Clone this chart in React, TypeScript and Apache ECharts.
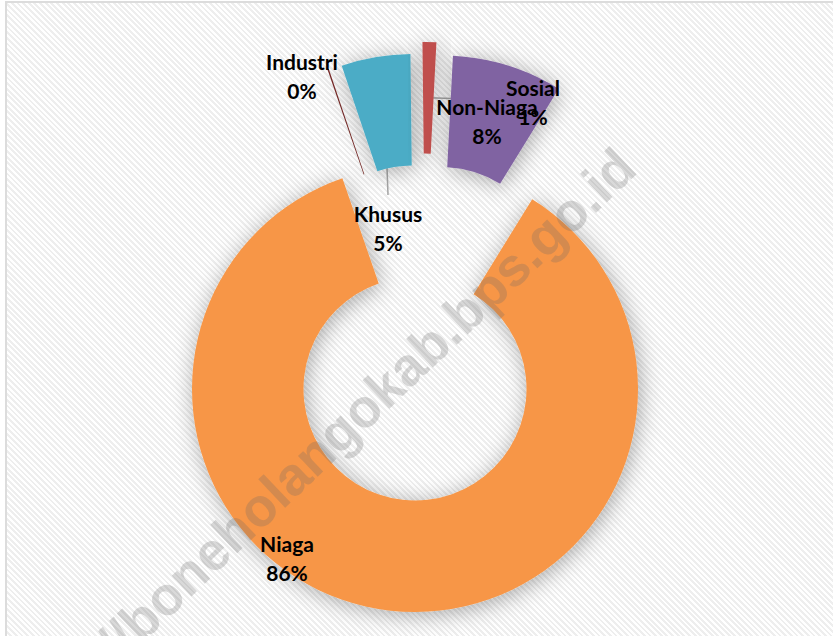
import React, { useEffect, useRef } from 'react';
import * as echarts from 'echarts';

// ---- data ----
const categories = ['Industri', 'Khusus', 'Sosial', 'Non-Niaga', 'Niaga'];
const values = [0.1, 5, 1, 8, 86];
const colors = ['#772C2A', '#4BACC6', '#C0504D', '#8064A2', '#F79646'];
const watermarkText = 'https://boneholangokab.bps.go.id';

// ---- layout ----
const START_ANGLE = 109;
const R_IN = 111.5;
const R_OUT = 223;
const drawOrder = ['Niaga', 'Industri', 'Khusus', 'Sosial', 'Non-Niaga'];
const centers: Record<string, [number, number]> = {
  Niaga: [415, 389],
  Industri: [400, 280],
  Khusus: [413, 277],
  Sosial: [425, 265],
  'Non-Niaga': [441.5, 278.5],
};
const labelPos: Record<string, [number, number]> = {
  Industri: [302, 76],
  Khusus: [388, 228],
  Sosial: [533, 102],
  'Non-Niaga': [487, 121],
  Niaga: [287, 558],
};
const leaderEnd: Record<string, [number, number]> = {
  Khusus: [388, 195],
  Sosial: [500, 100],
};

function bisector(idx: number): number {
  const total = values.reduce((a, b) => a + b, 0);
  let cum = 0;
  for (let i = 0; i < idx; i++) cum += values[i];
  const start = 90 - START_ANGLE + (cum / total) * 360;
  return start + (values[idx] / total) * 180;
}

export default function App() {
  const ref = useRef<HTMLDivElement>(null);
  useEffect(() => {
    document.body.style.margin = '0';
    if (!ref.current) return;
    const chart = echarts.init(ref.current, undefined, { renderer: 'svg' });
    const labelStyle = {
      fontFamily: 'Lato',
      fontWeight: 'bold' as const,
      fontSize: 21,
      lineHeight: 29,
      color: '#000',
    };
    const series = drawOrder.map((name) => {
      const idx = categories.indexOf(name);
      const hasLeader = !!leaderEnd[name];
      return {
        type: 'pie',
        silent: true,
        center: centers[name],
        radius: [R_IN, R_OUT],
        startAngle: START_ANGLE,
        clockwise: true,
        percentPrecision: 0,
        avoidLabelOverlap: false,
        z: name === 'Niaga' ? 2 : 3,
        label: { show: false },
        labelLine: { show: false },
        emphasis: { disabled: true },
        data: categories.map((c, i) => ({
          name: c,
          value: values[i],
          itemStyle:
            i === idx
              ? {
                  color: colors[i],
                  borderWidth: 0,
                  shadowBlur: 22,
                  shadowColor: 'rgba(0,0,0,0.33)',
                  shadowOffsetX: 2,
                  shadowOffsetY: 3,
                }
              : { color: 'rgba(0,0,0,0)', borderWidth: 0 },
          label:
            i === idx
              ? { show: true, position: 'outside', formatter: '{b}\n{d}%', ...labelStyle }
              : { show: false },
          labelLine:
            i === idx && hasLeader
              ? { show: true, lineStyle: { color: '#a6a6a6', width: 1.5 } }
              : { show: false },
        })),
        labelLayout: (p: any) => {
          if (p.dataIndex !== idx) return {};
          const [lx, ly] = labelPos[name];
          const res: any = { x: lx, y: ly, align: 'center', verticalAlign: 'middle' };
          if (hasLeader) {
            const b = (bisector(idx) * Math.PI) / 180;
            const rm = (R_IN + R_OUT) / 2;
            const [cx, cy] = centers[name];
            const sx = cx + rm * Math.sin(b);
            const sy = cy - rm * Math.cos(b);
            const e = leaderEnd[name];
            res.labelLinePoints = [
              [sx, sy],
              [e[0], e[1]],
              [e[0], e[1]],
            ];
          }
          return res;
        },
      };
    });
    chart.setOption({
      animation: false,
      backgroundColor: 'transparent',
      series,
      graphic: [
        {
          type: 'text',
          x: 626,
          y: 158,
          rotation: (43.5 * Math.PI) / 180,
          z: 100,
          silent: true,
          style: {
            text: watermarkText,
            font: 'bold 54px "Liberation Sans"',
            fill: 'rgba(105,105,105,0.25)',
            textAlign: 'right',
            textVerticalAlign: 'middle',
          },
        },
      ],
    } as any);
    return () => chart.dispose();
  }, []);
  return (
    <div style={{ position: 'relative', width: 833, height: 636, background: '#fff', overflow: 'hidden' }}>
      <div
        style={{
          position: 'absolute',
          left: 5,
          top: 1,
          width: 840,
          height: 650,
          borderLeft: '2px solid #dcdcdc',
          borderTop: '2px solid #dcdcdc',
          background: 'repeating-linear-gradient(45deg, #ffffff 0px, #ffffff 2px, #eeeeee 2px, #eeeeee 4px)',
        }}
      />
      <div ref={ref} style={{ position: 'absolute', left: 0, top: 0, width: 833, height: 636 }} />
    </div>
  );
}
